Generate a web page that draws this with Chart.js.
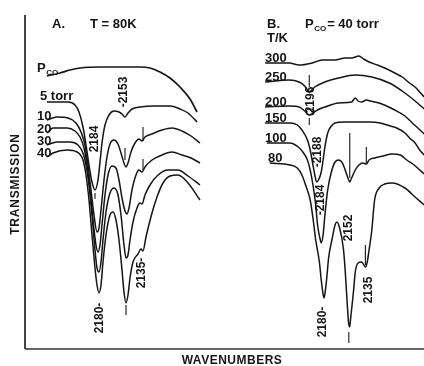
<!DOCTYPE html>
<html><head><meta charset="utf-8">
<script src="https://cdn.jsdelivr.net/npm/chart.js@4"></script>
<style>html,body{margin:0;padding:0;background:#fff;overflow:hidden}canvas{display:block}</style>
</head><body>
<canvas id="c" width="424" height="366"></canvas>
<script>
// ---- Panel A : T = 80 K, varying CO pressure (wavenumber cm-1, transmission arb. units)
const A_PCO_WN = [2231,2218,2208,2198,2178,2158,2138,2128,2118,2108,2098,2088,2081];
const A_PCO_T  = [273,276,279,281,282,282,282,281,277,271,262,250,237];
const A_5_WN  = [2231,2210,2203,2199,2195,2192,2189,2186,2183,2180,2178,2176,2173,2169,2164,2159,2156,2153,2150,2146,2138,2123,2108,2098,2090,2081];
const A_5_T   = [247,247,244,237,222,204,184,167,159,169,187,206,224,234,238,237,235,232,236,240,242,243,243,240,236,227];
const A_10_WN = [2231,2221,2210,2202,2197,2193,2190,2187,2184,2181,2179,2177,2174,2171,2168,2164,2160,2157,2154,2152,2150,2147,2143,2139,2136,2133,2126,2116,2106,2096,2087,2078];
const A_10_T  = [229,232,231,226,217,204,184,159,134,117,121,139,169,192,205,209,205,196,186,182,186,197,206,210,208,212,215,219,221,218,213,206];
const A_20_WN = [2231,2225,2211,2203,2198,2194,2191,2188,2185,2182,2180,2178,2176,2173,2170,2166,2162,2159,2156,2153,2151,2149,2146,2142,2139,2136,2133,2126,2116,2106,2096,2087,2078];
const A_20_T  = [216,221,221,218,212,201,184,159,129,104,97,104,124,154,174,183,181,169,151,138,135,141,159,174,179,177,182,189,194,197,194,191,186];
const A_30_WN = [2231,2221,2208,2200,2195,2192,2189,2186,2183,2181,2179,2177,2175,2172,2168,2164,2160,2157,2154,2152,2150,2148,2145,2141,2138,2136,2133,2128,2120,2110,2100,2090,2078];
const A_30_T  = [204,207,207,204,196,184,164,134,99,81,77,87,109,137,156,161,154,134,104,91,94,109,127,141,146,145,154,164,174,179,179,173,164];
const A_40_WN = [2231,2225,2211,2201,2195,2192,2189,2186,2183,2181,2179,2177,2175,2172,2168,2165,2162,2159,2156,2154,2152,2150,2148,2145,2140,2137,2135,2132,2126,2121,2115,2108,2100,2090,2078];
const A_40_T  = [192,196,199,197,189,174,149,114,81,64,56,64,87,114,134,137,129,109,79,57,46,54,71,87,95,100,98,112,136,152,166,173,174,166,149];

// ---- Panel B : P_CO = 40 torr, varying temperature
const B_300_WN = [2244,2218,2207,2193,2182,2168,2157,2150,2142,2137,2131,2122,2114,2103,2095,2087,2081,2076,2071];
const B_300_T  = [286,286,284,286,289,289,291,291,293,290,287,284,281,276,272,266,262,257,252];
const B_250_WN = [2244,2218,2207,2201,2196,2190,2179,2164,2146,2128,2109,2092,2081,2071];
const B_250_T  = [267,269,267,263,257,262,267,271,274,272,266,256,248,240];
const B_200_WN = [2244,2218,2207,2201,2196,2192,2187,2179,2164,2150,2146,2143,2139,2134,2130,2120,2103,2092,2084,2078,2071];
const B_200_T  = [242,243,242,238,234,236,239,242,246,247,251,248,247,249,248,246,239,233,226,221,215];
const B_150_WN = [2244,2217,2209,2204,2198,2195,2192,2190,2188,2186,2183,2181,2179,2176,2172,2168,2157,2141,2130,2119,2108,2101,2092,2087,2081,2076,2071];
const B_150_T  = [226,226,224,219,209,199,184,174,167,169,177,189,202,216,223,226,227,227,227,226,223,221,216,211,206,199,194];
const B_100_WN = [2242,2217,2208,2203,2198,2195,2192,2189,2187,2184,2183,2181,2179,2176,2172,2168,2164,2160,2157,2154,2152,2150,2146,2142,2138,2134,2131,2125,2116,2106,2097,2090,2082,2076,2071];
const B_100_T  = [206,206,202,197,189,179,164,144,124,109,106,114,134,159,177,187,189,186,179,171,167,171,179,184,186,185,189,191,193,195,194,189,184,179,175];
const B_80_WN  = [2239,2217,2209,2204,2200,2195,2192,2189,2185,2183,2181,2180,2179,2177,2175,2171,2168,2166,2163,2159,2157,2155,2153,2152,2151,2148,2146,2143,2139,2135,2133,2131,2128,2125,2120,2114,2106,2092,2081,2071];
const B_80_T   = [186,184,181,174,164,149,131,109,87,69,55,51,55,71,91,111,124,127,121,101,79,49,24,22,31,57,77,86,87,82,87,99,119,149,161,165,166,161,152,144];

// ---- labels
const A_CURVE_LABELS = ['5 torr','10','20','30','40'];
const B_CURVE_LABELS = ['300','250','200','150','100','80'];
const A_PEAK_LABELS  = ['-2153','2184','2180-','2135-'];
const A_PEAK_WN      = [2154,2183,2178,2136];
const A_PEAK_T       = [257,210,31,76];
const B_PEAK_LABELS  = ['2196','-2188','-2184','2152','2135','2180-'];
const B_PEAK_WN      = [2195,2187,2184,2153,2131,2181];
const B_PEAK_T       = [249,197,149,121,59,27];
// marker ticks: wavenumber, from, to
const A_TICK_WN = [2153,2135,2135,2183,2152];
const A_TICK_T1 = [201,222,190,156,44];
const A_TICK_T2 = [189,208,179,150,34];
const B_TICK_WN = [2196,2196,2152,2134,2153,2135];
const B_TICK_T1 = [274,231,216,202,17,104];
const B_TICK_T2 = [262,224,171,186,6,84];

const FONT = '"Liberation Sans", Arial, sans-serif';
const INK = '#151515';

function pts(wn, t){ return wn.map((w,i)=>({x:w, y:t[i]})); }
function ds(label, wn, t, axis, w){
  return {label, data:pts(wn,t), xAxisID:axis, yAxisID:'y', borderColor:INK,
          borderWidth:w||1.5, pointRadius:0, fill:false, cubicInterpolationMode:'monotone'};
}

function txt(ctx, s, x, y, size, o){
  o = o||{};
  ctx.save();
  ctx.font = (o.weight||'bold')+' '+size+'px '+FONT;
  ctx.fillStyle = INK;
  ctx.textAlign = o.align||'left';
  ctx.textBaseline = o.base||'alphabetic';
  ctx.translate(x,y);
  if (o.rot) ctx.rotate(o.rot);
  if (o.spacing) ctx.letterSpacing = o.spacing+'px';
  ctx.fillText(s,0,0);
  ctx.restore();
}
function pco(ctx, x, y, suffix){
  ctx.save();
  ctx.font = 'bold 13px '+FONT; ctx.fillStyle = INK; ctx.textBaseline='alphabetic';
  ctx.fillText('P', x, y);
  let w = ctx.measureText('P').width;
  ctx.font = 'bold 8px '+FONT;
  ctx.fillText('CO', x+w+0.5, y+3);
  let w2 = ctx.measureText('CO').width;
  if (suffix){ ctx.font='bold 13px '+FONT; ctx.fillText(suffix, x+w+w2+1.5, y); }
  ctx.restore();
}

const annot = {
  id:'annot',
  afterDatasetsDraw(chart){
    const {ctx, chartArea:ca, scales} = chart;
    const xA = scales.xA, xB = scales.xB, y = scales.y;
    ctx.save();
    // axes
    ctx.strokeStyle = INK; ctx.lineWidth = 1.6;
    ctx.beginPath(); ctx.moveTo(ca.left, ca.top); ctx.lineTo(ca.left, ca.bottom); ctx.stroke();
    ctx.strokeStyle = '#333'; ctx.lineWidth = 1.3;
    ctx.beginPath(); ctx.moveTo(ca.left, ca.bottom); ctx.lineTo(ca.right, ca.bottom); ctx.stroke();
    // axis titles
    txt(ctx, 'TRANSMISSION', 16, 184, 12, {rot:-Math.PI/2, align:'center', base:'middle', spacing:0.8});
    txt(ctx, 'WAVENUMBERS', 232, 361, 12, {align:'center', base:'middle', spacing:0.5});
    // headers
    txt(ctx, 'A.', 52, 28, 13);
    txt(ctx, 'T = 80K', 90, 28, 13);
    txt(ctx, 'B.', 267, 28, 13);
    pco(ctx, 305, 28, '= 40 torr');
    txt(ctx, 'T/K', 267, 42, 13);
    // curve labels
    const m0 = chart.getDatasetMeta(0).data[0];
    pco(ctx, 37, m0.y-4);
    A_CURVE_LABELS.forEach((s,i)=>{
      const p = chart.getDatasetMeta(i+1).data[0];
      txt(ctx, s, i===0?40:37, p.y-(i===0?2:0), 13);
    });
    B_CURVE_LABELS.forEach((s,i)=>{
      const p = chart.getDatasetMeta(i+6).data[0];
      txt(ctx, s, s.length===2?268:265, p.y-1, 13);
    });
    // peak labels
    A_PEAK_LABELS.forEach((s,i)=>{
      txt(ctx, s, xA.getPixelForValue(A_PEAK_WN[i]), y.getPixelForValue(A_PEAK_T[i]), 12, {rot:-Math.PI/2, align:'center', base:'middle'});
    });
    B_PEAK_LABELS.forEach((s,i)=>{
      txt(ctx, s, xB.getPixelForValue(B_PEAK_WN[i]), y.getPixelForValue(B_PEAK_T[i]), 12, {rot:-Math.PI/2, align:'center', base:'middle'});
    });
    // loop around 2196 on the 200 K curve
    ctx.strokeStyle = INK; ctx.lineWidth = 1.2;
    ctx.beginPath();
    ctx.ellipse(xB.getPixelForValue(2195), y.getPixelForValue(237), 4, 3, 0, 0, Math.PI*2);
    ctx.stroke();
    // ticks
    ctx.lineWidth = 1.1;
    const tick = (sx, w, a, b) => { const px = sx.getPixelForValue(w);
      ctx.beginPath(); ctx.moveTo(px, y.getPixelForValue(a)); ctx.lineTo(px, y.getPixelForValue(b)); ctx.stroke(); };
    A_TICK_WN.forEach((w,i)=>tick(xA, w, A_TICK_T1[i], A_TICK_T2[i]));
    B_TICK_WN.forEach((w,i)=>tick(xB, w, B_TICK_T1[i], B_TICK_T2[i]));
    ctx.restore();
  }
};

new Chart(document.getElementById('c'), {
  type:'line',
  data:{ datasets:[
    ds('Pco', A_PCO_WN, A_PCO_T, 'xA', 1.7),
    ds('5 torr', A_5_WN, A_5_T, 'xA'),
    ds('10 torr', A_10_WN, A_10_T, 'xA'),
    ds('20 torr', A_20_WN, A_20_T, 'xA'),
    ds('30 torr', A_30_WN, A_30_T, 'xA'),
    ds('40 torr', A_40_WN, A_40_T, 'xA'),
    ds('300 K', B_300_WN, B_300_T, 'xB'),
    ds('250 K', B_250_WN, B_250_T, 'xB'),
    ds('200 K', B_200_WN, B_200_T, 'xB'),
    ds('150 K', B_150_WN, B_150_T, 'xB'),
    ds('100 K', B_100_WN, B_100_T, 'xB'),
    ds('80 K', B_80_WN, B_80_T, 'xB')
  ]},
  options:{
    responsive:false, animation:false, devicePixelRatio:1,
    layout:{ padding:{left:25, top:15, right:0, bottom:17} },
    plugins:{ legend:{display:false}, tooltip:{enabled:false} },
    scales:{
      xA:{ type:'linear', display:false, reverse:true, min:1854, max:2253 },
      xB:{ type:'linear', display:false, reverse:true, min:2071.3, max:2505 },
      y:{ type:'linear', display:false, min:0, max:334 }
    }
  },
  plugins:[annot]
});
</script>
</body></html>
